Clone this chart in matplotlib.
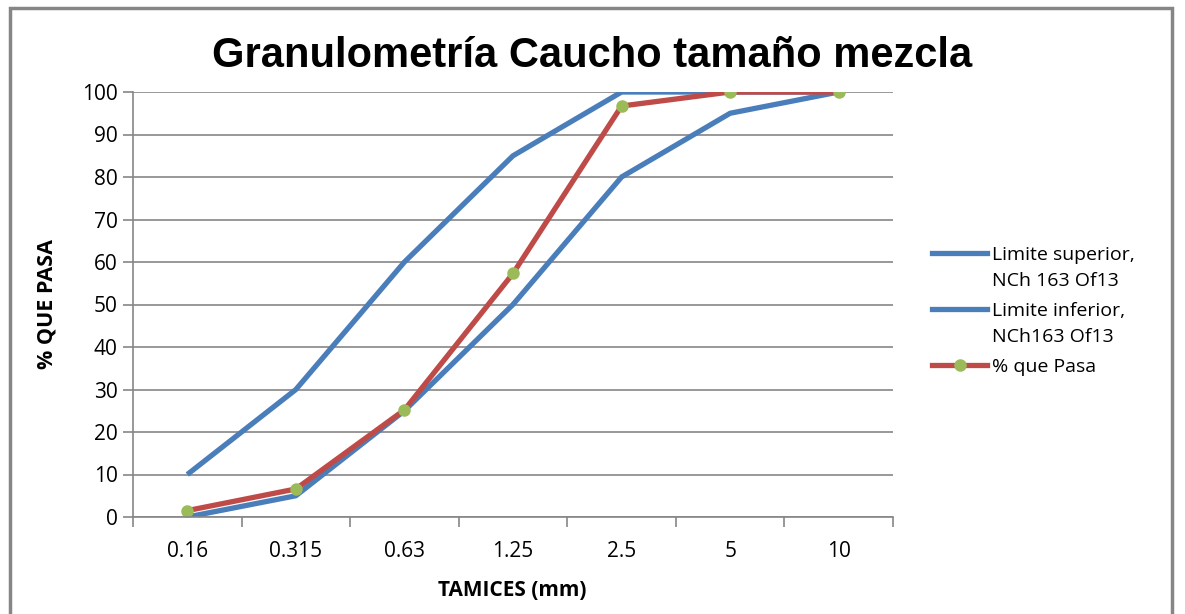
import numpy as np
import matplotlib.pyplot as plt
from matplotlib.lines import Line2D
from matplotlib.patches import Rectangle

# -----------------------------
# Data
# -----------------------------
tamices = ["0.16", "0.315", "0.63", "1.25", "2.5", "5", "10"]
limite_superior = [10, 30, 60, 85, 100, 100, 100]
limite_inferior = [0, 5, 25, 50, 80, 95, 100]
que_pasa = [1.5, 6.6, 25.2, 57.3, 96.7, 100, 100]

series_labels = ["Limite superior,\nNCh 163 Of13", "Limite inferior,\nNCh163 Of13", "% que Pasa"]

blue = "#4a7ebb"
red = "#be4b48"
green = "#9bbb59"
grid_gray = "#868686"

plt.rcParams['font.family'] = ['Open Sans', 'DejaVu Sans']

W, H = 1185, 614
fig = plt.figure(figsize=(W / 100, H / 100), dpi=100)
ax = fig.add_axes([133 / W, 1 - 517 / H, (893 - 133) / W, (517 - 92) / H])

x = np.arange(len(tamices))
ax.plot(x, limite_superior, color=blue, lw=3.8, solid_capstyle='butt')
ax.plot(x, limite_inferior, color=blue, lw=3.8, solid_capstyle='butt')
ax.plot(x, que_pasa, color=red, lw=3.8, marker='o', ms=8, mfc=green, mec=green,
        solid_capstyle='butt')

ax.set_xlim(-0.5, len(tamices) - 0.5)
ax.set_ylim(0, 100)
ax.set_yticks(np.arange(0, 101, 10))
ax.set_xticks(x)
ax.set_xticklabels(tamices)
ax.set_xticks(np.arange(-0.5, len(tamices), 1), minor=True)
ax.tick_params(axis='x', which='major', length=0, pad=17, labelsize=15)
ax.tick_params(axis='x', which='minor', length=7, color=grid_gray, width=1.2)
ax.tick_params(axis='y', length=7, color=grid_gray, width=1.2, labelsize=15, pad=4)
ax.yaxis.grid(True, color=grid_gray, lw=1.2)
ax.set_axisbelow(True)
for s in ['top', 'right']:
    ax.spines[s].set_visible(False)
for s in ['left', 'bottom']:
    ax.spines[s].set_color(grid_gray)
    ax.spines[s].set_linewidth(1.2)

ax.set_xlabel("TAMICES (mm)", fontsize=15, fontweight='bold')
ax.set_ylabel("% QUE PASA", fontsize=15.5, fontweight='bold')
ax.xaxis.set_label_coords((512 - 133) / 760, (517 - 591) / 425)
ax.yaxis.set_label_coords((47 - 133) / 760, (517 - 304) / 425)
ax.xaxis.label.set_va('center')
ax.yaxis.label.set_va('center')

fig.text(0.5, 1 - 56 / H, "Granulometría Caucho tamaño mezcla", ha='center', va='center',
         fontsize=30, fontweight='bold', family=['Liberation Sans', 'DejaVu Sans'])

# legend drawn by hand so the handle sits on the first text line
leg_y = [253, 309, 365]
leg_styles = [dict(color=blue), dict(color=blue), dict(color=red, marker='o', ms=8,
                                                          mfc=green, mec=green, markevery=[1])]
for yy, lab, st in zip(leg_y, series_labels, leg_styles):
    fig.add_artist(Line2D([932 / W, 960 / W, 987 / W], [1 - yy / H] * 3, lw=3.8,
                          transform=fig.transFigure, **st))
    fig.text(992 / W, 1 - (yy - 7) / H, lab, ha='left', va='top', fontsize=14,
             linespacing=1.55)

# outer chart border
fig.add_artist(Rectangle((10 / W, -0.05), (1172 - 10) / W, 1.05 - 8 / H,
                         transform=fig.transFigure, fill=False, ec=grid_gray, lw=2.5))

fig.savefig("out.png", dpi=100)
